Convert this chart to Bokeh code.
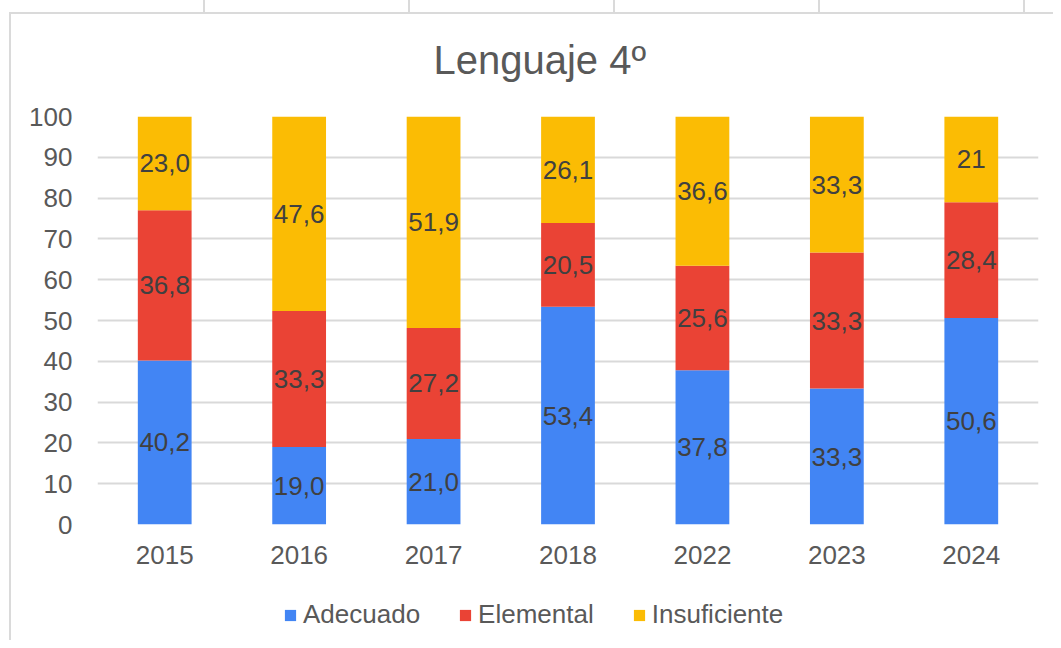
from bokeh.plotting import figure
from bokeh.layouts import column
from bokeh.models import (ColumnDataSource, FactorRange, Range1d, SingleIntervalTicker,
                          Legend, LegendItem, Title)
from bokeh.core.properties import value
from bokeh.embed import file_html
from bokeh.resources import INLINE

years = ["2015", "2016", "2017", "2018", "2022", "2023", "2024"]
adecuado = [40.2, 19.0, 21.0, 53.4, 37.8, 33.3, 50.6]
elemental = [36.8, 33.3, 27.2, 20.5, 25.6, 33.3, 28.4]
insuficiente = [23.0, 47.6, 51.9, 26.1, 36.6, 33.3, 21.0]
adecuado_lbl = ["40,2", "19,0", "21,0", "53,4", "37,8", "33,3", "50,6"]
elemental_lbl = ["36,8", "33,3", "27,2", "20,5", "25,6", "33,3", "28,4"]
insuficiente_lbl = ["23,0", "47,6", "51,9", "26,1", "36,6", "33,3", "21"]
series = ["Adecuado", "Elemental", "Insuficiente"]
colors = ["#4285F4", "#EA4335", "#FBBC04"]

FONT = "Liberation Sans"

# 100% stacked
tot = [a + e + i for a, e, i in zip(adecuado, elemental, insuficiente)]
pa = [a / t * 100 for a, t in zip(adecuado, tot)]
pe = [e / t * 100 for e, t in zip(elemental, tot)]
pi = [i / t * 100 for i, t in zip(insuficiente, tot)]

src = ColumnDataSource(dict(year=years, Adecuado=pa, Elemental=pe, Insuficiente=pi))

p = figure(x_range=FactorRange(*years, range_padding=0), y_range=Range1d(0, 100),
           width=1053, height=580, frame_width=941, frame_height=408,
           output_backend="svg", toolbar_location=None,
           min_border_left=97, min_border_right=15, min_border_top=116, min_border_bottom=56)
p.outline_line_color = None
p.background_fill_color = "white"
p.border_fill_alpha = 0

renderers = p.vbar_stack(series, x="year", width=0.4, color=colors, line_color=None, source=src)

# labels centred in segments
bottoms = [0] * len(years)
for vals, lbls in [(pa, adecuado_lbl), (pe, elemental_lbl), (pi, insuficiente_lbl)]:
    mids = [b + v / 2 for b, v in zip(bottoms, vals)]
    lsrc = ColumnDataSource(dict(x=years, y=mids, t=lbls))
    p.text(x="x", y="y", text="t", source=lsrc, text_align="center", text_baseline="middle",
           text_font=value(FONT), text_font_size="26px", text_color="#404040")
    bottoms = [b + v for b, v in zip(bottoms, vals)]

p.yaxis.ticker = SingleIntervalTicker(interval=10)
for ax in (p.xaxis[0], p.yaxis[0]):
    ax.axis_line_color = None
    ax.major_tick_line_color = None
    ax.minor_tick_line_color = None
    ax.major_label_text_font = FONT
    ax.major_label_text_font_size = "26px"
    ax.major_label_text_color = "#595959"
p.yaxis.major_label_standoff = 19
p.xaxis.major_label_standoff = 15

p.xgrid.grid_line_color = None
p.ygrid.grid_line_color = "#d9d9d9"
p.ygrid.grid_line_width = 2

title = Title(text="Lenguaje 4º", align="left", text_font=FONT, text_font_size="40px",
              text_font_style="normal", text_color="#595959", standoff=70, offset=336)
p.add_layout(title, "above")

# legend strip below the chart (its bars sit outside the visible y range)
p2 = figure(x_range=FactorRange(*years, range_padding=0), y_range=Range1d(200, 300),
            width=1053, height=60, output_backend="svg", toolbar_location=None,
            x_axis_type=None, y_axis_type=None,
            min_border_left=0, min_border_right=0, min_border_top=0, min_border_bottom=0)
p2.outline_line_color = None
p2.background_fill_alpha = 0
p2.border_fill_alpha = 0
p2.xgrid.visible = False
p2.ygrid.visible = False
keys = p2.vbar_stack(series, x="year", width=0.4, color=colors, line_color=None, source=src)
legend = Legend(items=[LegendItem(label=s, renderers=[r]) for s, r in zip(series, keys)],
                orientation="horizontal", location=(186, 10), border_line_color=None,
                background_fill_alpha=0, glyph_width=14, glyph_height=14, label_standoff=6,
                spacing=38, label_text_font=FONT, label_text_font_size="26px",
                label_text_color="#595959", margin=0, padding=4)
p2.add_layout(legend, "center")

layout = column(p, p2, spacing=0)
g = "linear-gradient(#dadada, #dadada)"
layout.styles = {
    "background-color": "white",
    "background-image": ", ".join([
        "repeating-linear-gradient(to right, transparent 0px, transparent 203px, #dadada 203px, #dadada 205px)",
        g, g]),
    "background-size": "100% 12px, 2px 100%, 100% 2px",
    "background-position": "0px 0px, 9px 12px, 9px 12px",
    "background-repeat": "no-repeat",
}

open("out.html", "w").write(file_html(layout, INLINE))
